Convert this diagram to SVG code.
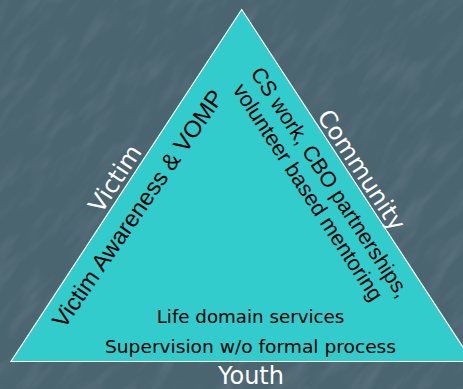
<svg xmlns="http://www.w3.org/2000/svg" width="463" height="389" viewBox="0 0 463 389">
  <defs>
    <filter id="grain" x="0" y="0" width="100%" height="100%">
      <feTurbulence type="fractalNoise" baseFrequency="0.02 0.07" numOctaves="3" seed="7" result="n"/>
      <feColorMatrix in="n" type="matrix" values="0 0 0 0 1  0 0 0 0 1  0 0 0 0 1  0.9 0 0 0 -0.4"/>
    </filter>
    <style>
      .edge { font-family: "DejaVu Sans", Verdana, sans-serif; fill: #ffffff; }
      .inside { font-family: "Liberation Sans", Arial, sans-serif; fill: #000000; }
      .base { font-family: "DejaVu Sans", Verdana, sans-serif; fill: #000000; font-size: 18.4px; text-anchor: middle; }
    </style>
  </defs>

  <g id="background">
    <rect x="0" y="0" width="463" height="389" fill="#4a6470"/>
    <rect x="-300" y="-300" width="1100" height="1000" filter="url(#grain)" opacity="0.2" transform="rotate(-52 231 194)"/>
  </g>

  <g id="triangle">
    <polygon points="241.7,9.5 11,361.5 472.4,361.5" fill="#33cccc" stroke="#ffffff" stroke-width="1.2"/>
  </g>

  <g id="victim" transform="translate(11 361.5) rotate(-56.76)">
    <text class="edge" x="210" y="-5" font-size="24" text-anchor="middle">Victim</text>
    <text class="inside" x="56" y="27" font-size="23.5" transform="rotate(1.37 56 27)">Victim Awareness &amp; VOMP</text>
  </g>

  <g id="community" transform="translate(241.7 9.5) rotate(56.76)">
    <text class="edge" x="200" y="-4" font-size="24" text-anchor="middle">Community</text>
    <text class="inside" x="58" y="28" font-size="21.5">CS work, CBO partnerships,</text>
    <text class="inside" x="62" y="52" font-size="21.5">volunteer based mentoring</text>
  </g>

  <g id="youth">
    <text class="base" x="250.5" y="322.5" textLength="187.6" lengthAdjust="spacingAndGlyphs">Life domain services</text>
    <text class="base" x="250.5" y="353" textLength="291" lengthAdjust="spacingAndGlyphs">Supervision w/o formal process</text>
    <text class="edge" x="251" y="384" font-size="24" text-anchor="middle">Youth</text>
  </g>
</svg>
